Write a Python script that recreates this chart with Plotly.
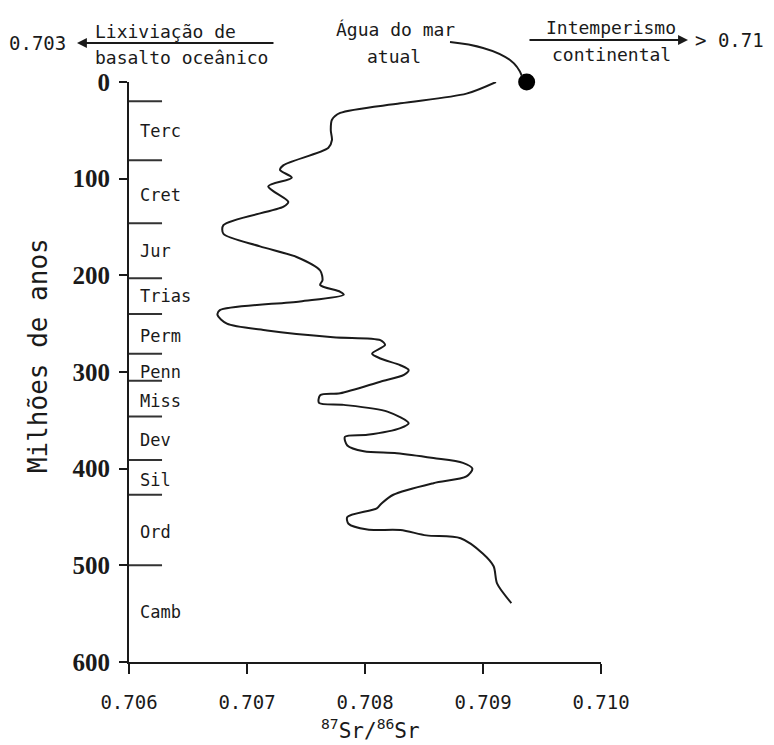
import plotly.graph_objects as go

# ---- data ----
age_ma = [0, 12, 22, 32, 39, 50, 60, 68, 86, 91, 99, 108, 124, 129, 148, 157, 170, 181, 195,
          205, 210, 217, 220, 227, 236, 241, 250, 257, 264, 267, 272, 281, 286, 293, 298, 303,
          310, 322, 324, 332, 334, 341, 353, 358, 365, 367, 376, 382, 384, 389, 394, 400, 408,
          415, 427, 436, 441, 450, 457, 463, 463.5, 469, 472, 488, 501, 519, 539]
sr_ratio = [0.70911, 0.70886, 0.70830, 0.70779, 0.70772, 0.70771, 0.70772, 0.70769, 0.70731,
            0.70728, 0.70738, 0.70718, 0.70735, 0.70731, 0.70680, 0.70680, 0.70711, 0.70742,
            0.70762, 0.70764, 0.70762, 0.70779, 0.70782, 0.70745, 0.70677, 0.70675, 0.70683,
            0.70717, 0.70773, 0.70813, 0.70817, 0.70806, 0.70813, 0.70830, 0.70837, 0.70833,
            0.70813, 0.70779, 0.70762, 0.70761, 0.70782, 0.70819, 0.70837, 0.70830, 0.70802,
            0.70783, 0.70785, 0.70799, 0.70827, 0.70858, 0.70883, 0.70891, 0.70886, 0.70858,
            0.70824, 0.70814, 0.70810, 0.70785, 0.70786, 0.70802, 0.70830, 0.70852, 0.70881,
            0.70900, 0.70909, 0.70912, 0.70924]

seawater_sr = [0.70937]
seawater_age = [0]

period_bounds = [20, 81, 146, 203, 240, 281, 309, 346, 391, 427, 500]
period_names = ["Terc", "Cret", "Jur", "Trias", "Perm", "Penn", "Miss", "Dev", "Sil", "Ord", "Camb"]
period_label_age = [51, 117, 175, 221, 263, 300, 330, 370, 412, 465, 548]

x_ticks = [0.706, 0.707, 0.708, 0.709, 0.710]
x_ticktext = ["0.706", "0.707", "0.708", "0.709", "0.710"]
y_ticks = [0, 100, 200, 300, 400, 500, 600]
y_ticktext = ["0", "100", "200", "300", "400", "500", "600"]

MONO = "DejaVu Sans Mono"
INK = "#1a1a1a"

fig = go.Figure()
fig.add_trace(go.Scatter(x=sr_ratio, y=age_ma, mode="lines",
                         line=dict(color=INK, width=2, shape="spline", smoothing=0.8),
                         cliponaxis=False, showlegend=False, hoverinfo="skip"))
fig.add_trace(go.Scatter(x=seawater_sr, y=seawater_age, mode="markers",
                         marker=dict(color="black", size=17), cliponaxis=False,
                         showlegend=False, hoverinfo="skip"))

shapes = []
for b in period_bounds:
    shapes.append(dict(type="line", xref="x", yref="y", x0=0.706, x1=0.70628, y0=b, y1=b,
                       line=dict(color="#333", width=2)))
# leader line from "Água do mar atual" to the dot (paper coords)
shapes.append(dict(type="path", xref="paper", yref="paper",
                   path="M 0.6801 1.0690 Q 0.7648 1.0621 0.8072 1.0379 Q 0.8242 1.0276 0.8326 1.0103",
                   line=dict(color=INK, width=2)))

ann = []
for name, a in zip(period_names, period_label_age):
    ann.append(dict(x=0.70608, y=a, xref="x", yref="y", text=name, showarrow=False,
                    xanchor="left", yanchor="middle", font=dict(family=MONO, size=17, color=INK)))

def txt(t, x, y, xanchor="center", size=18):
    ann.append(dict(x=x, y=y, xref="paper", yref="paper", text=t, showarrow=False,
                    xanchor=xanchor, yanchor="middle", font=dict(family=MONO, size=size, color=INK)))

txt("0.703", -0.1928, 1.0672, size=19)
txt("Lixiviação de", -0.0763, 1.0879, xanchor="left")
txt("basalto oceânico", -0.0763, 1.0422, xanchor="left")
txt("Água do mar", 0.5636, 1.0897)
txt("atual", 0.5614, 1.0448)
txt("Intemperismo", 1.0212, 1.0940)
txt("continental", 1.0212, 1.0466)
txt("> 0.71", 1.1949, 1.0724, xanchor="left", size=19)

# arrows
ann.append(dict(x=-0.1102, y=1.0672, xref="paper", yref="paper", text="", showarrow=True,
                ax=198, ay=0, arrowhead=2, arrowsize=1.1, arrowwidth=1.8, arrowcolor=INK))
ann.append(dict(x=1.1843, y=1.0724, xref="paper", yref="paper", text="", showarrow=True,
                ax=-160, ay=0, arrowhead=2, arrowsize=1.1, arrowwidth=1.8, arrowcolor=INK))

# axis titles
ann.append(dict(x=-0.229, y=0.529, xref="paper", yref="paper", text="Milhões de anos",
                showarrow=False, textangle=-90, font=dict(family=MONO, size=26, color=INK)))
ann.append(dict(x=0.5106, y=-0.1431, xref="paper", yref="paper",
                text="<sup>87</sup>Sr/<sup>86</sup>Sr", showarrow=False, yanchor="bottom",
                font=dict(family=MONO, size=21, color=INK)))

fig.update_layout(
    width=774, height=745,
    margin=dict(l=129, r=173, t=82, b=83),
    paper_bgcolor="white", plot_bgcolor="white",
    shapes=shapes, annotations=ann,
    xaxis=dict(range=[0.706, 0.710], tickvals=x_ticks, ticktext=x_ticktext,
               showline=True, linecolor=INK, linewidth=2, ticks="outside", ticklen=10,
               tickwidth=2, tickcolor=INK, showgrid=False, zeroline=False,
               ticklabelstandoff=12, tickfont=dict(family=MONO, size=19, color=INK)),
    yaxis=dict(range=[600, 0], tickvals=y_ticks, ticktext=y_ticktext,
               showline=True, linecolor=INK, linewidth=2, ticks="outside", ticklen=8,
               tickwidth=2, tickcolor=INK, showgrid=False, zeroline=False,
               ticklabelstandoff=4,
               tickfont=dict(family="Liberation Serif", size=25, color=INK, weight="bold")),
)

fig.write_html("out.html")
